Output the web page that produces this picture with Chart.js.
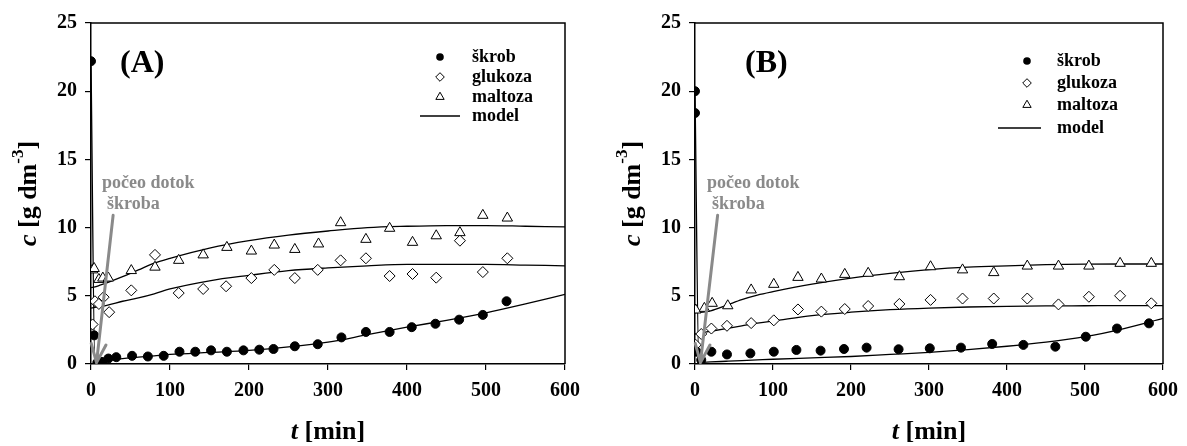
<!DOCTYPE html>
<html>
<head>
<meta charset="utf-8">
<script src="https://cdn.jsdelivr.net/npm/chart.js@4.4.1/dist/chart.umd.min.js"></script>
<style>
  body { margin: 0; background: #fff; }
  #wrapA { position: absolute; left: 0; top: 0; width: 600px; height: 446px; }
  #wrapB { position: absolute; left: 604px; top: 0; width: 583px; height: 446px; }
</style>
</head>
<body>
<div id="wrapA"><canvas id="chartA" width="600" height="446"></canvas></div>
<div id="wrapB"><canvas id="chartB" width="583" height="446"></canvas></div>
<script>
// ---- panel A data (t in min, c in g dm-3) ----
const tSkrobA = [0, 4, 8, 14, 22, 32, 52, 72, 92, 112, 132, 152, 172, 193, 213, 231, 258, 287, 317, 348, 378, 406, 436, 466, 496, 526];
const cSkrobA = [22.2, 2.1, 0.1, 0.15, 0.4, 0.5, 0.6, 0.55, 0.6, 0.9, 0.9, 1.0, 0.9, 1.0, 1.05, 1.1, 1.3, 1.45, 1.95, 2.35, 2.35, 2.7, 2.95, 3.25, 3.6, 4.6];
const tGlukozaA = [2, 5, 10, 16, 23, 51, 81, 111, 142, 171, 203, 232, 258, 287, 316, 348, 378, 407, 437, 467, 496, 527];
const cGlukozaA = [2.9, 4.6, 4.4, 4.9, 3.8, 5.4, 8.0, 5.2, 5.5, 5.7, 6.3, 6.9, 6.3, 6.9, 7.6, 7.75, 6.45, 6.6, 6.33, 9.04, 6.74, 7.75];
const tMaltozaA = [2, 4, 10, 15, 22, 51, 81, 111, 142, 172, 203, 232, 258, 288, 316, 348, 378, 407, 437, 467, 496, 527];
const cMaltozaA = [6.9, 7.0, 6.2, 6.3, 6.3, 6.85, 7.1, 7.6, 8.0, 8.55, 8.28, 8.72, 8.4, 8.8, 10.36, 9.14, 9.95, 8.92, 9.4, 9.63, 10.9, 10.7];

// ---- panel B data ----
const tSkrobB = [0, 0, 2, 8, 21, 41, 71, 101, 130, 161, 191, 220, 261, 301, 341, 381, 421, 462, 501, 541, 582];
const cSkrobB = [20.0, 18.4, 0.9, 0.3, 0.9, 0.7, 0.78, 0.9, 1.03, 0.98, 1.1, 1.2, 1.08, 1.15, 1.2, 1.47, 1.4, 1.27, 2.0, 2.6, 2.98];
const tGlukozaB = [1, 8, 21, 41, 72, 101, 132, 162, 192, 222, 262, 302, 343, 383, 426, 466, 505, 545, 585];
const cGlukozaB = [1.4, 2.2, 2.6, 2.8, 3.0, 3.2, 4.0, 3.84, 4.03, 4.25, 4.4, 4.7, 4.8, 4.8, 4.8, 4.37, 4.93, 5.0, 4.45];
const tMaltozaB = [1, 12, 22, 42, 72, 101, 132, 162, 192, 222, 262, 302, 343, 383, 426, 466, 505, 545, 585];
const cMaltozaB = [3.96, 4.08, 4.45, 4.27, 5.43, 5.84, 6.35, 6.23, 6.57, 6.65, 6.4, 7.13, 6.9, 6.7, 7.18, 7.18, 7.18, 7.38, 7.38];

// ---- model curves (same time grid for both panels) ----
const tModel = [0, 5, 10, 20, 40, 60, 80, 100, 150, 200, 250, 300, 350, 400, 450, 500, 550, 600];
const mSkrobA = [22.2, 0.05, 0.1, 0.25, 0.4, 0.5, 0.6, 0.7, 0.85, 1.0, 1.25, 1.6, 2.15, 2.7, 3.2, 3.75, 4.4, 5.1];
const mGlukozaA = [4.1, 4.15, 4.2, 4.3, 4.6, 4.85, 5.15, 5.5, 6.1, 6.5, 6.85, 7.05, 7.2, 7.3, 7.3, 7.3, 7.25, 7.2];
const mMaltozaA = [5.6, 5.65, 5.75, 5.95, 6.4, 6.9, 7.4, 7.75, 8.5, 9.05, 9.45, 9.75, 10.0, 10.1, 10.15, 10.15, 10.1, 10.05];
const mSkrobB = [20.0, 0.1, 0.12, 0.15, 0.2, 0.25, 0.3, 0.35, 0.45, 0.55, 0.7, 0.85, 1.05, 1.3, 1.6, 2.0, 2.6, 3.35];
const mGlukozaB = [2.2, 2.25, 2.3, 2.4, 2.6, 2.8, 3.0, 3.15, 3.55, 3.8, 3.98, 4.1, 4.18, 4.23, 4.26, 4.27, 4.28, 4.28];
const mMaltozaB = [3.75, 3.78, 3.8, 3.9, 4.3, 4.72, 5.05, 5.3, 5.85, 6.3, 6.65, 6.92, 7.1, 7.2, 7.28, 7.32, 7.33, 7.33];

const legendNames = ['škrob', 'glukoza', 'maltoza', 'model'];
const noteLines = ['počeo dotok', 'škroba'];

const SERIF = '"Liberation Serif", "Times New Roman", serif';
const GRAY = '#8a8a8a';

function pts(ts, cs) {
  return ts.map((t, i) => ({ x: t, y: cs[i] }));
}

function marker(ctx, style, x, y, r) {
  ctx.beginPath();
  if (style === 'circle') {
    ctx.arc(x, y, r, 0, Math.PI * 2);
    ctx.fillStyle = '#000';
    ctx.fill();
    return;
  }
  if (style === 'rectRot') {
    ctx.moveTo(x - r, y); ctx.lineTo(x, y - r); ctx.lineTo(x + r, y); ctx.lineTo(x, y + r);
  } else {
    const h = r * Math.sqrt(3) / 2;
    ctx.moveTo(x - h, y + r / 2); ctx.lineTo(x, y - r); ctx.lineTo(x + h, y + r / 2);
  }
  ctx.closePath();
  ctx.fillStyle = '#fff';
  ctx.fill();
  ctx.lineWidth = 1;
  ctx.strokeStyle = '#000';
  ctx.stroke();
}

// frame, panel label, legend, note with arrow, axis titles
const decor = {
  id: 'decor',
  afterDraw(chart, args, o) {
    const { ctx, chartArea: a, scales: { x, y } } = chart;
    ctx.save();

    ctx.strokeStyle = '#000';
    ctx.lineWidth = 1.5;
    ctx.beginPath();
    ctx.moveTo(a.left, a.top);
    ctx.lineTo(a.right, a.top);
    ctx.lineTo(a.right, a.bottom);
    ctx.stroke();

    // panel label
    ctx.fillStyle = '#000';
    ctx.font = 'bold 32px ' + SERIF;
    ctx.textAlign = 'left';
    ctx.textBaseline = 'middle';
    ctx.fillText(o.label, a.left + o.labelDx, 64);

    // legend
    const styles = ['circle', 'rectRot', 'triangle'];
    const sizes = [3.8, 4.3, 4.8];
    ctx.font = 'bold 18px ' + SERIF;
    legendNames.forEach((name, i) => {
      const ly = o.legendRows[i];
      if (i < 3) {
        marker(ctx, styles[i], a.right - o.legendMarker, ly, sizes[i]);
      } else {
        ctx.strokeStyle = '#000';
        ctx.lineWidth = 1.3;
        ctx.beginPath();
        ctx.moveTo(a.right - o.legendLine[0], ly);
        ctx.lineTo(a.right - o.legendLine[1], ly);
        ctx.stroke();
      }
      ctx.fillStyle = '#000';
      ctx.textBaseline = 'middle';
      ctx.fillText(name, a.right - o.legendText, ly);
    });

    // note + arrow
    ctx.fillStyle = GRAY;
    ctx.font = 'bold 18px ' + SERIF;
    ctx.fillText(noteLines[0], a.left + o.noteDx[0], 183);
    ctx.fillText(noteLines[1], a.left + o.noteDx[1], 204);
    const x0 = x.getPixelForValue(o.arrowFrom[0]), y0 = y.getPixelForValue(o.arrowFrom[1]);
    const x1 = x.getPixelForValue(o.arrowTo[0]), y1 = y.getPixelForValue(o.arrowTo[1]);
    ctx.strokeStyle = GRAY;
    ctx.lineWidth = 3;
    ctx.lineCap = 'round';
    ctx.beginPath();
    ctx.moveTo(x0, y0);
    ctx.lineTo(x1, y1);
    const ang = Math.atan2(y0 - y1, x0 - x1);
    [-0.38, 0.38].forEach(d => {
      ctx.moveTo(x1, y1);
      ctx.lineTo(x1 + 20 * Math.cos(ang + d), y1 + 20 * Math.sin(ang + d));
    });
    ctx.stroke();

    // axis titles
    ctx.fillStyle = '#000';
    ctx.textBaseline = 'middle';
    const it = 'italic bold 26px ' + SERIF, bd = 'bold 26px ' + SERIF;
    ctx.font = it;
    const wt = ctx.measureText('t').width;
    ctx.font = bd;
    const wm = ctx.measureText(' [min]').width;
    let sx = (a.left + a.right) / 2 - (wt + wm) / 2;
    ctx.font = it; ctx.fillText('t', sx, 432);
    ctx.font = bd; ctx.fillText(' [min]', sx + wt, 432);

    ctx.translate(a.left - 62, (a.top + a.bottom) / 2);
    ctx.rotate(-Math.PI / 2);
    const sup = 'bold 17px ' + SERIF;
    ctx.font = it; const w1 = ctx.measureText('c').width;
    ctx.font = bd; const w2 = ctx.measureText(' [g dm').width;
    ctx.font = sup; const w3 = ctx.measureText('-3').width;
    ctx.font = bd; const w4 = ctx.measureText(']').width;
    sx = -(w1 + w2 + w3 + w4) / 2;
    ctx.font = it; ctx.fillText('c', sx, 0); sx += w1;
    ctx.font = bd; ctx.fillText(' [g dm', sx, 0); sx += w2;
    ctx.font = sup; ctx.fillText('-3', sx, -10); sx += w3;
    ctx.font = bd; ctx.fillText(']', sx, 0);

    ctx.restore();
  }
};

function makeChart(id, sets, decorOpts, rightPad) {
  const tickFont = { family: SERIF, size: 20, weight: 'bold' };
  return new Chart(document.getElementById(id), {
    type: 'scatter',
    data: {
      datasets: [
        { data: pts(tModel, sets.mS), showLine: true, borderColor: '#000', borderWidth: 1.3, pointRadius: 0, cubicInterpolationMode: 'monotone', order: 2 },
        { data: pts(tModel, sets.mG), showLine: true, borderColor: '#000', borderWidth: 1.3, pointRadius: 0, cubicInterpolationMode: 'monotone', order: 2 },
        { data: pts(tModel, sets.mM), showLine: true, borderColor: '#000', borderWidth: 1.3, pointRadius: 0, cubicInterpolationMode: 'monotone', order: 2 },
        { data: sets.s, pointStyle: 'circle', pointRadius: 4.5, backgroundColor: '#000', borderColor: '#000', borderWidth: 1, order: 1 },
        { data: sets.g, pointStyle: 'rectRot', pointRadius: 5.5, backgroundColor: '#fff', borderColor: '#000', borderWidth: 1, order: 1 },
        { data: sets.m, pointStyle: 'triangle', pointRadius: 6, backgroundColor: '#fff', borderColor: '#000', borderWidth: 1, order: 1 }
      ]
    },
    options: {
      responsive: false,
      animation: false,
      devicePixelRatio: 1,
      layout: { padding: { left: 0, right: rightPad, top: 23, bottom: 0 } },
      scales: {
        x: {
          type: 'linear', min: 0, max: 600,
          ticks: { stepSize: 100, color: '#000', font: tickFont, padding: 9, maxRotation: 0 },
          grid: { drawOnChartArea: false, tickLength: 6, color: '#000', lineWidth: 1.2 },
          border: { color: '#000', width: 1.5 },
          afterFit(s) { s.height = 82; }
        },
        y: {
          min: 0, max: 25,
          ticks: { stepSize: 5, color: '#000', font: tickFont, padding: 8 },
          grid: { drawOnChartArea: false, tickLength: 6, color: '#000', lineWidth: 1.2 },
          border: { color: '#000', width: 1.5 },
          afterFit(s) { s.width = 91; }
        }
      },
      plugins: {
        legend: { display: false },
        tooltip: { enabled: false },
        decor: decorOpts
      }
    },
    plugins: [decor]
  });
}

makeChart('chartA', {
  s: pts(tSkrobA, cSkrobA), g: pts(tGlukozaA, cGlukozaA), m: pts(tMaltozaA, cMaltozaA),
  mS: mSkrobA, mG: mGlukozaA, mM: mMaltozaA
}, {
  label: '(A)', labelDx: 29,
  legendRows: [57, 77, 97, 116], legendMarker: 125, legendText: 93, legendLine: [145, 105],
  noteDx: [11, 16], arrowFrom: [28, 10.9], arrowTo: [7, 0.1]
}, 35);

makeChart('chartB', {
  s: pts(tSkrobB, cSkrobB), g: pts(tGlukozaB, cGlukozaB), m: pts(tMaltozaB, cMaltozaB),
  mS: mSkrobB, mG: mGlukozaB, mM: mMaltozaB
}, {
  label: '(B)', labelDx: 50,
  legendRows: [61, 83, 105, 128], legendMarker: 136, legendText: 106, legendLine: [165, 122],
  noteDx: [12, 17], arrowFrom: [29, 10.9], arrowTo: [7, 0.1]
}, 19);
</script>
</body>
</html>
